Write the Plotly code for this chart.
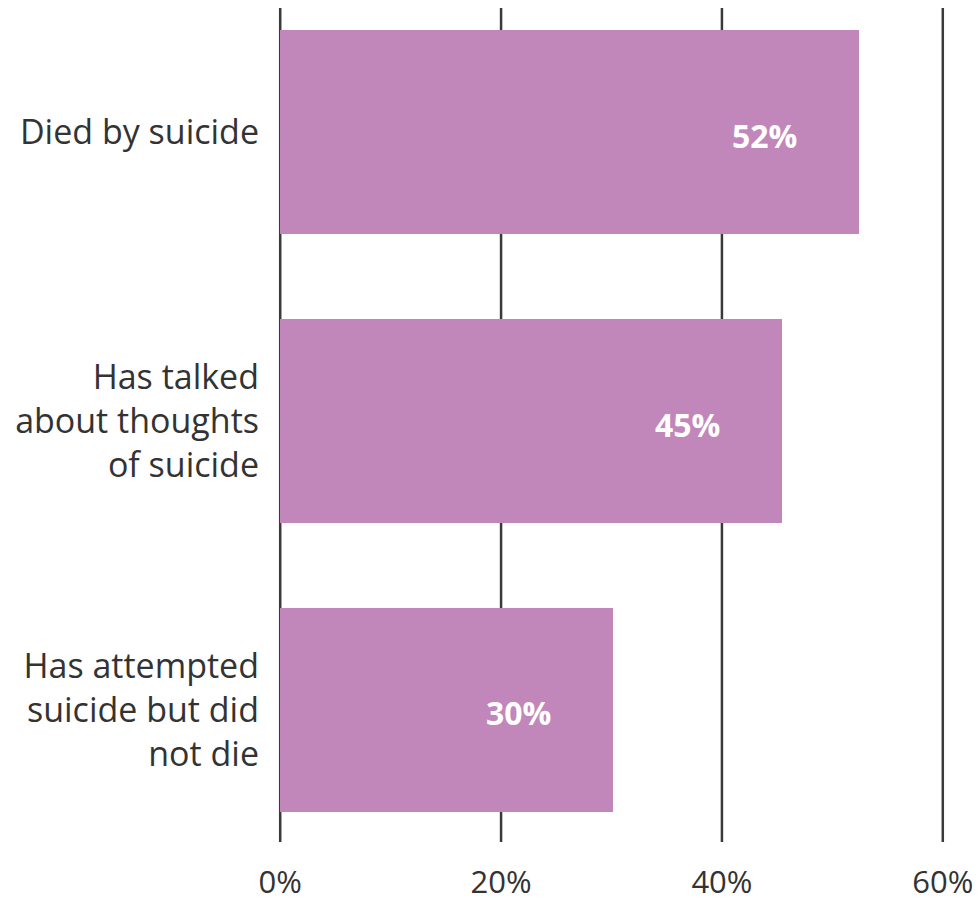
import plotly.graph_objects as go

categories = ["Died by suicide", "Has talked<br>about thoughts<br>of suicide", "Has attempted<br>suicide but did<br>not die"]
values = [52.4, 45.4, 30.1]
value_labels = ["52%", "45%", "30%"]
tick_vals = [0, 20, 40, 60]
tick_labels = ["0%", "20%", "40%", "60%"]

FONT = "Open Sans"
TEXT = "#333333"
BAR = "#C287BA"
GRID = "#3a3a3a"

ypos = list(range(len(categories)))

fig = go.Figure()
fig.add_trace(go.Bar(
    x=values, y=ypos, orientation="h",
    marker=dict(color=BAR, line=dict(width=0)),
    width=0.705, hoverinfo="skip",
))

for tv in tick_vals:
    fig.add_shape(type="line", xref="x", yref="paper", x0=tv, x1=tv, y0=0, y1=1,
                  line=dict(color=GRID, width=2.5), layer="below")

for v, y, t in zip(values, ypos, value_labels):
    fig.add_annotation(x=v, y=y, text=f"<b>{t}</b>", showarrow=False,
                       xanchor="center", yanchor="middle", xshift=-94, yshift=-3,
                       font=dict(family=FONT, size=32, color="white"))

fig.update_layout(
    width=980, height=905,
    margin=dict(l=278, r=35, t=8, b=63, autoexpand=False),
    paper_bgcolor="white", plot_bgcolor="white",
    showlegend=False,
    font=dict(family=FONT, size=31, color=TEXT),
    bargap=0,
)
fig.update_xaxes(
    range=[-0.2, 60.2], tickvals=tick_vals, ticktext=tick_labels,
    showgrid=False, zeroline=False,
    showline=False, ticks="", ticklabelstandoff=19, automargin=False,
    tickfont=dict(family=FONT, size=31, color=TEXT),
)
fig.update_yaxes(
    range=[2.457, -0.43], tickvals=ypos, ticktext=categories,
    showgrid=False, zeroline=False, showline=False, ticks="",
    ticklabelstandoff=18, automargin=False,
    tickfont=dict(family=FONT, size=34, color=TEXT),
)

fig.write_html("out.html")
